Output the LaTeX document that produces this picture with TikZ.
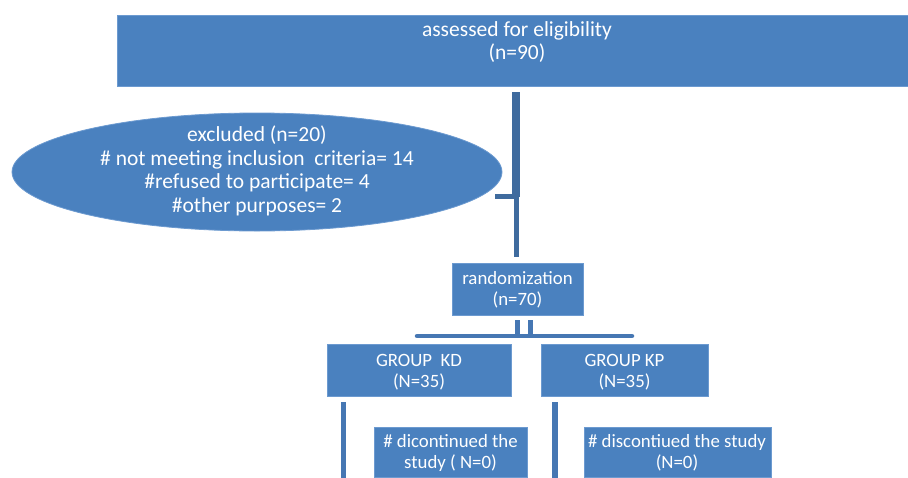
\documentclass[tikz,border=0pt]{standalone}
\usepackage{fontspec}
\setmainfont{Carlito}
\usetikzlibrary{shapes.geometric}
\definecolor{boxblue}{HTML}{4A81BF}
\definecolor{boxedge}{HTML}{6C9AD0}
\definecolor{trunkblue}{HTML}{3F6B9E}
\definecolor{lineblue}{HTML}{4677B3}
\tikzset{
  box/.style={fill=boxblue, draw=boxedge, line width=0.8pt, inner sep=0pt},
  txt/.style={text=white, align=center, font=\fontsize{21.5}{23.5}\selectfont, inner sep=0pt},
  stxt/.style={txt, font=\fontsize{18.8}{21}\selectfont},
  conn/.style={draw=lineblue, line width=5pt},
}
\begin{document}
\begin{tikzpicture}[x=1pt, y=-1pt]
\useasboundingbox (0,0) rectangle (908,477);
\clip (0,0) rectangle (908,477);
% boxes
\node[box, minimum width=795pt, minimum height=71pt, anchor=north west] (top) at (117,15) {};
\node[txt] (toptxt) at (517,42) {assessed for eligibility\\(n=90)};
\node[box, ellipse, minimum width=490pt, minimum height=118pt] (excl) at (257,172) {};
\node[txt] (excltxt) at (257,171) {excluded (n=20)\\\# not meeting inclusion\ \ criteria= 14\\\#refused to participate= 4\\\#other purposes= 2};
\node[box, minimum width=131pt, minimum height=52pt] (rand) at (517.5,289) {};
\node[stxt] (randtxt) at (517.5,290) {randomization\\(n=70)};
\node[box, minimum width=184pt, minimum height=52pt] (kd) at (419,370) {};
\node[stxt] (kdtxt) at (419,372.5) {GROUP\ \ KD\\(N=35)};
\node[box, minimum width=167pt, minimum height=52pt] (kp) at (624.5,370) {};
\node[stxt] (kptxt) at (624.5,372.5) {GROUP KP\\(N=35)};
\node[box, minimum width=153pt, minimum height=50pt, anchor=north] (dkd) at (450.5,426.5) {};
\node[stxt] (dkdtxt) at (450.5,453) {\# dicontinued the\\study ( N=0)};
\node[box, minimum width=187pt, minimum height=50pt, anchor=north] (dkp) at (677.5,426.5) {};
\node[stxt] (dkptxt) at (677,453) {\# discontiued the study\\(N=0)};
% connectors
\coordinate (t1) at (516,92);
\coordinate (t2) at (516,197);
\coordinate (t3) at (516.5,257);
\coordinate (stub) at (495,196.5);
\draw[draw=trunkblue, line width=8pt] (t1) -- (t2);
\draw[draw=trunkblue, line width=5pt] (t2 -| t3) -- (t3);
\draw[draw=trunkblue, line width=5pt] (stub) -- (519,196.5);
\coordinate (r1) at (517.5,320);
\coordinate (r2) at (530.5,320);
\coordinate (bl) at (417,336);
\coordinate (br) at (632,336);
\draw[conn] (r1) -- (r1 |- bl);
\draw[conn] (r2) -- (r2 |- bl);
\draw[conn, line width=4.5pt, line cap=round] (bl) -- (br);
\coordinate (kdl) at (343.5,402);
\coordinate (kpl) at (555,402);
\draw[conn] (kdl) -- (343.5,480);
\draw[conn, line width=6pt] (kpl) -- (555,480);
\end{tikzpicture}
\end{document}
